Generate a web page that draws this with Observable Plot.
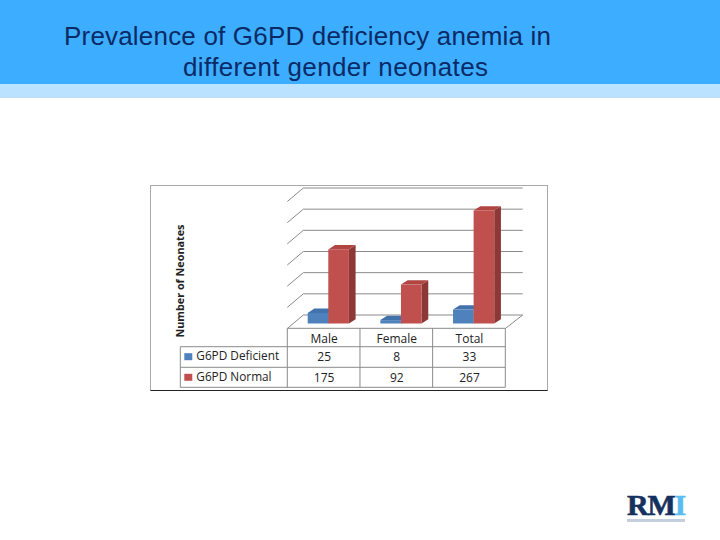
<!DOCTYPE html>
<html><head><meta charset="utf-8">
<script src="https://cdn.jsdelivr.net/npm/d3@7"></script>
<script src="https://cdn.jsdelivr.net/npm/@observablehq/plot@0.6"></script>
<style>
html,body{margin:0;padding:0;background:#fff;width:720px;height:540px;overflow:hidden;position:relative}
#band{position:absolute;left:0;top:0;width:720px;height:84px;background:#3daeff}
#strip{position:absolute;left:0;top:84px;width:720px;height:14px;background:#bbe3ff}
.t{position:absolute;font:26px "Liberation Sans",Arial,sans-serif;color:#0a2a66;white-space:nowrap}
#frame{position:absolute;left:150px;top:185px;width:396px;height:204px;border:1px solid #aaa;border-bottom:1px solid #222}
#chart{position:absolute;left:0;top:98px}
#chart svg{background:transparent;overflow:visible}
#logo{position:absolute;left:627px;top:487px;font:bold 30px/36px "Liberation Serif",serif;color:#15325f;letter-spacing:-1.2px;-webkit-text-stroke:.6px #15325f}
#logo span{color:#5cbcf0;-webkit-text-stroke:.6px #5cbcf0}
#logoline{position:absolute;left:627px;top:519px;width:58px;height:3px;background:#c3cfdd}
</style></head><body>
<div id="band"></div><div id="strip"></div>
<div class="t" style="left:64px;top:21px;letter-spacing:.19px">Prevalence of G6PD deficiency anemia in</div>
<div class="t" style="left:183px;top:52px;letter-spacing:.38px">different gender neonates</div>
<div id="frame"></div>
<div id="chart"></div>
<div id="logo">RM<span>I</span></div><div id="logoline"></div>
<script>
const categories = ["Male","Female","Total"];
const seriesNames = ["G6PD Deficient","G6PD Normal"];
const deficient = [25,8,33];
const normal = [175,92,267];
const gridValues = [0,50,100,150,200,250,300];
const colors = ["#4f81bd","#c0504d"];
const sideColors = ["#3b6291","#8c3836"];
const topColors = ["#4272ab","#b04541"];

const rows = categories.flatMap((c,i)=>[
  {category:c,series:seriesNames[0],value:deficient[i],s:0},
  {category:c,series:seriesNames[1],value:normal[i],s:1}
]);

const depthX=6.7, depthY=4.3, wallX=16, wallY=8.5, wallSlope=13.5, rightExt=17.4;
const barLeft=[20.4,41], barW=20.6, bandW=72.67;
const font='"Open Sans",sans-serif';

function faces(index,scales){
  const g=d3.create("svg:g");
  for(const r of rows){
    const x0=scales.x(r.category)+barLeft[r.s], x1=x0+barW, y0=scales.y(0), y=scales.y(r.value);
    g.append("polygon").attr("fill",sideColors[r.s])
      .attr("points",[[x1,y0],[x1,y],[x1+depthX,y-depthY],[x1+depthX,y0-depthY]].join(" "));
    g.append("polygon").attr("fill",topColors[r.s])
      .attr("points",[[x0,y],[x1,y],[x1+depthX,y-depthY],[x0+depthX,y-depthY]].join(" "));
  }
  return g.node();
}
function walls(index,scales){
  const g=d3.create("svg:g").attr("stroke","#8a8a8a").attr("fill","none");
  const left=scales.x(categories[0]);
  const right=left+bandW*categories.length;
  for(const v of gridValues){
    const y=scales.y(v)-wallY;
    g.append("line").attr("x1",left+wallX).attr("x2",right+rightExt).attr("y1",y).attr("y2",y);
    g.append("line").attr("x1",left+wallX).attr("x2",left).attr("y1",y).attr("y2",y+wallSlope);
  }
  const y=scales.y(0)-wallY;
  g.append("line").attr("x1",right+rightExt).attr("x2",right).attr("y1",y).attr("y2",y+wallSlope);
  return g.node();
}
function table(index,scales){
  const g=d3.create("svg:g").attr("stroke","#8a8a8a").attr("fill","none");
  const left=scales.x(categories[0]);
  const right=left+bandW*categories.length;
  const y0=scales.y(0), top=y0+4.8, r1=y0+23.2, r2=y0+43.8, r3=y0+63.8, outer=left-107;
  g.append("line").attr("x1",left).attr("x2",right).attr("y1",top).attr("y2",top);
  for(const y of [r1,r2,r3]) g.append("line").attr("x1",outer).attr("x2",right).attr("y1",y).attr("y2",y);
  g.append("line").attr("x1",outer).attr("x2",outer).attr("y1",r1).attr("y2",r3);
  categories.forEach((c,i)=>g.append("line").attr("x1",left+bandW*i).attr("x2",left+bandW*i).attr("y1",top).attr("y2",r3));
  g.append("line").attr("x1",right).attr("x2",right).attr("y1",top).attr("y2",r3);
  colors.forEach((c,i)=>g.append("rect").attr("stroke","none").attr("fill",c)
    .attr("x",outer+4).attr("y",(i?r2:r1)+6.5).attr("width",8).attr("height",7));
  return g.node();
}

const rowLabel=(data,dy)=>Plot.text(data,{x:d=>d.c,text:d=>d.t,frameAnchor:"bottom",dy,fontSize:12,fontFamily:font,fill:"#222"});
const seriesLabel=(name,dy)=>Plot.text([name],{text:d=>d,frameAnchor:"bottom-left",textAnchor:"start",dx:-91.5,dy,fontSize:11.8,fontFamily:font,fill:"#222"});

const plot=Plot.plot({
  width:720,height:442,
  marginLeft:287.3,marginRight:214.7,marginTop:98.5,marginBottom:216.5,
  x:{type:"band",domain:categories,padding:0,round:false,axis:null},
  y:{domain:[0,300],range:[225.5,98.5],axis:null},
  color:{domain:seriesNames,range:colors},
  marks:[
    walls,
    faces,
    Plot.barY(rows.filter(d=>d.s===0),{x:"category",y:"value",fill:"series",insetLeft:barLeft[0],insetRight:bandW-barLeft[0]-barW}),
    Plot.barY(rows.filter(d=>d.s===1),{x:"category",y:"value",fill:"series",insetLeft:barLeft[1],insetRight:bandW-barLeft[1]-barW}),
    table,
    rowLabel(categories.map(c=>({c,t:c})),19),
    rowLabel(categories.map((c,i)=>({c,t:String(deficient[i])})),36.5),
    rowLabel(categories.map((c,i)=>({c,t:String(normal[i])})),57.5),
    seriesLabel(seriesNames[0],36),
    seriesLabel(seriesNames[1],57),
    Plot.text(["Number of Neonates"],{text:d=>d,frameAnchor:"bottom-left",rotate:-90,textAnchor:"start",
      dx:-104,dy:13.5,fontSize:10.8,fontWeight:"bold",fontFamily:font,fill:"#222"})
  ]
});
document.getElementById("chart").appendChild(plot);
</script>
</body></html>
